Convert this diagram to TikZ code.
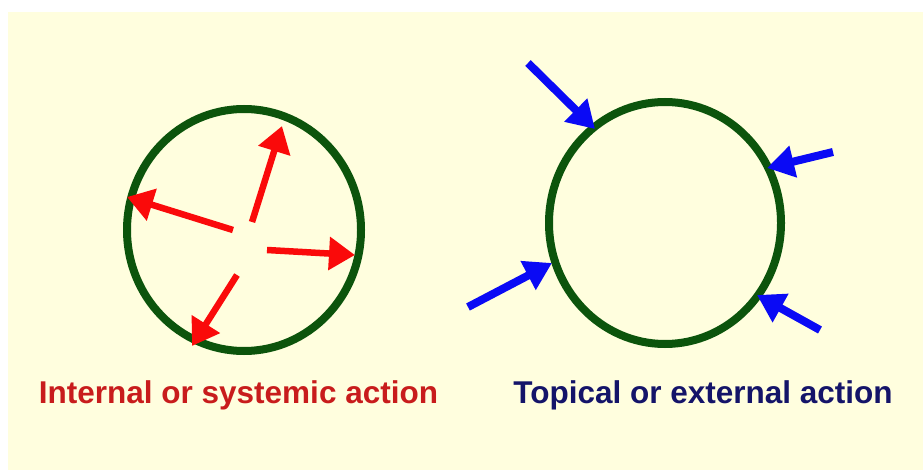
\documentclass[tikz,border=0pt]{standalone}
\usepackage{fontspec}
\setmainfont{Liberation Sans}
\usetikzlibrary{shapes.geometric,arrows.meta}
\definecolor{Cream}{RGB}{255,254,222}
\definecolor{Ring}{RGB}{12,84,12}
\definecolor{InRed}{RGB}{250,10,10}
\definecolor{OutBlue}{RGB}{10,10,245}
\definecolor{TxtRed}{RGB}{200,28,28}
\definecolor{TxtNavy}{RGB}{20,20,105}
\tikzset{
  ring/.style={ellipse,draw=Ring,line width=8pt,inner sep=0pt},
  inarrow/.style={-{Triangle[width=32pt,length=26pt]},InRed,line width=6.5pt},
  outarrow/.style={-{Triangle[width=31pt,length=27pt]},OutBlue,line width=8pt},
  caption/.style={font=\fontsize{31.5}{34}\selectfont\bfseries,inner sep=0pt,anchor=base},
}

\begin{document}
\begin{tikzpicture}[x=1pt,y=-1pt]
  % background
  \fill[white] (0,0) rectangle (923,470);
  \fill[Cream] (8,12) rectangle (923,470);
  \useasboundingbox (0,0) rectangle (923,470);

  % left: internal action
  \node[ring,minimum width=234pt,minimum height=242pt] (lring) at (244,230) {};
  \coordinate (l1s) at (252,222); \coordinate (l1e) at (282,126);
  \coordinate (l2s) at (233,230); \coordinate (l2e) at (127,197);
  \coordinate (l3s) at (267,250); \coordinate (l3e) at (355,255);
  \coordinate (l4s) at (237,275); \coordinate (l4e) at (192,346);
  \draw[inarrow] (l1s) -- (l1e);
  \draw[inarrow] (l2s) -- (l2e);
  \draw[inarrow] (l3s) -- (l3e);
  \draw[inarrow] (l4s) -- (l4e);

  % right: external action
  \node[ring,minimum width=232pt,minimum height=242pt] (rring) at (665,223) {};
  \coordinate (r1s) at (528,63);  \coordinate (r1e) at (595,129);
  \coordinate (r2s) at (833,152); \coordinate (r2e) at (767,168);
  \coordinate (r3s) at (468,307); \coordinate (r3e) at (552,263);
  \coordinate (r4s) at (820,330); \coordinate (r4e) at (757,295);
  \draw[outarrow] (r1s) -- (r1e);
  \draw[outarrow] (r2s) -- (r2e);
  \draw[outarrow] (r3s) -- (r3e);
  \draw[outarrow] (r4s) -- (r4e);

  % captions
  \node[caption,TxtRed] (ltext) at (238.5,403) {Internal or systemic action};
  \node[caption,TxtNavy] (rtext) at (703,403) {Topical or external action};
\end{tikzpicture}
\end{document}
